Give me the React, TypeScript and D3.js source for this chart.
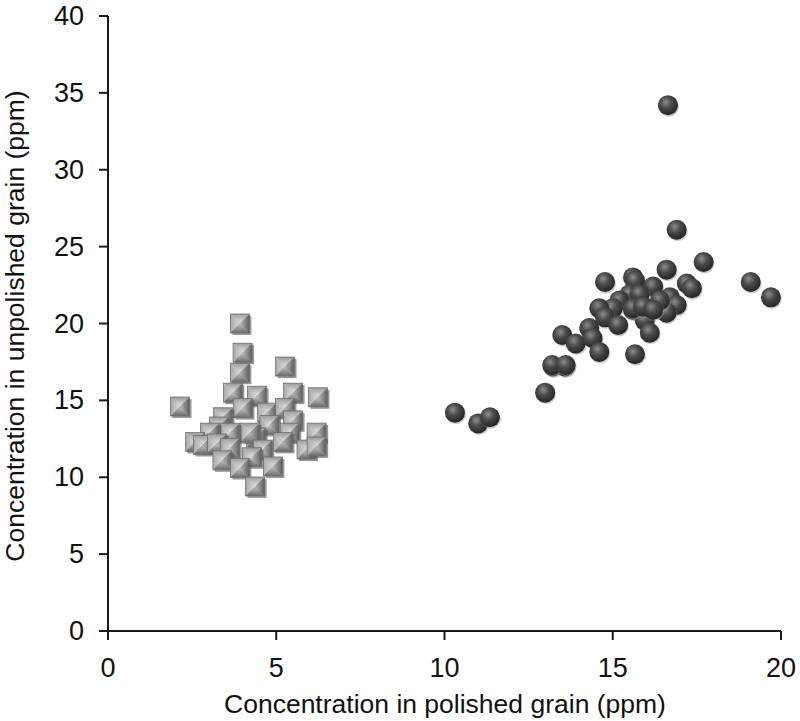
import { scaleLinear } from "d3";

const width = 800;
const height = 721;
const margin = { left: 108, right: 19, top: 16, bottom: 90 };

// polished grain (x) vs unpolished grain (y), ppm
const squareX = [3.92, 4.0, 3.92, 5.26, 3.71, 4.43, 5.5, 6.24, 2.14, 4.01, 4.72, 5.26, 3.42, 3.3, 4.8, 5.5, 4.4, 4.22, 3.63, 3.03, 5.4, 6.2, 2.59, 2.82, 3.24, 3.63, 4.6, 5.2, 5.9, 6.2, 3.4, 4.28, 3.92, 4.9, 4.37];
const squareY = [20.0, 18.1, 16.8, 17.2, 15.5, 15.3, 15.5, 15.2, 14.6, 14.5, 14.2, 14.5, 13.9, 13.3, 13.4, 13.7, 12.6, 12.9, 12.9, 12.9, 12.9, 12.9, 12.3, 12.1, 12.2, 11.9, 11.8, 12.3, 11.8, 12.0, 11.1, 11.3, 10.6, 10.7, 9.4];

const circleX = [10.31, 11.0, 11.35, 12.99, 13.22, 13.58, 16.64, 16.9, 17.7, 16.6, 19.1, 19.7, 17.2, 17.35, 14.77, 15.6, 15.66, 16.2, 15.5, 16.7, 16.9, 16.6, 15.6, 15.2, 15.8, 16.4, 15.95, 15.0, 14.6, 14.77, 15.16, 15.6, 15.9, 16.2, 14.3, 13.5, 13.9, 14.4, 14.6, 16.1, 15.66, 13.2, 13.6];
const circleY = [14.2, 13.5, 13.9, 15.5, 17.2, 17.2, 34.2, 26.1, 24.0, 23.5, 22.7, 21.7, 22.6, 22.3, 22.7, 23.0, 22.8, 22.4, 21.9, 21.7, 21.2, 20.7, 20.9, 21.5, 21.9, 21.5, 20.2, 21.0, 21.0, 20.4, 19.9, 21.0, 21.1, 20.9, 19.7, 19.25, 18.7, 19.06, 18.15, 19.4, 18.0, 17.3, 17.3];

const xTicks = [0, 5, 10, 15, 20];
const yTicks = [0, 5, 10, 15, 20, 25, 30, 35, 40];

const font = "Liberation Sans, Arial, Helvetica, sans-serif";

export default function App() {
  const x = scaleLinear().domain([0, 20]).range([margin.left, width - margin.right]);
  const y = scaleLinear().domain([0, 40]).range([height - margin.bottom, margin.top]);
  const s = 9.5; // half size of square marker
  const r = 10;

  return (
    <div style={{ position: "absolute", left: 0, top: 0 }}>
      <svg width={width} height={height} style={{ display: "block", background: "#fff" }}>
        <defs>
          <linearGradient id="gTop" x1="0" y1="0" x2="0" y2="1">
            <stop offset="0" stopColor="#9a9a9a" />
            <stop offset="1" stopColor="#e6e6e6" />
          </linearGradient>
          <linearGradient id="gLeft" x1="0" y1="0" x2="1" y2="0">
            <stop offset="0" stopColor="#a8a8a8" />
            <stop offset="1" stopColor="#dcdcdc" />
          </linearGradient>
          <linearGradient id="gRight" x1="1" y1="0" x2="0" y2="0">
            <stop offset="0" stopColor="#5e5e5e" />
            <stop offset="1" stopColor="#b8b8b8" />
          </linearGradient>
          <linearGradient id="gBottom" x1="0" y1="1" x2="0" y2="0">
            <stop offset="0" stopColor="#6a6a6a" />
            <stop offset="1" stopColor="#c4c4c4" />
          </linearGradient>
          <radialGradient id="gBall" cx="0.4" cy="0.35" r="0.65">
            <stop offset="0" stopColor="#8c8c8c" />
            <stop offset="0.45" stopColor="#4a4a4a" />
            <stop offset="1" stopColor="#262626" />
          </radialGradient>
        </defs>

        {/* squares */}
        {squareX.map((d, i) => {
          const cx = x(d);
          const cy = y(squareY[i]);
          return (
            <g key={"s" + i} transform={`translate(${cx},${cy})`}>
              <rect x={-s + 2} y={-s + 2} width={2 * s} height={2 * s} fill="#555" opacity={0.6} />
              <path d={`M${-s},${-s}L${s},${-s}L0,0Z`} fill="url(#gTop)" />
              <path d={`M${-s},${-s}L0,0L${-s},${s}Z`} fill="url(#gLeft)" />
              <path d={`M${s},${-s}L${s},${s}L0,0Z`} fill="url(#gRight)" />
              <path d={`M${-s},${s}L0,0L${s},${s}Z`} fill="url(#gBottom)" />
              <rect x={-s} y={-s} width={2 * s} height={2 * s} fill="none" stroke="#6e6e6e" strokeWidth={0.8} />
            </g>
          );
        })}

        {/* circles */}
        {circleX.map((d, i) => (
          <g key={"c" + i}>
            <circle cx={x(d) + 1} cy={y(circleY[i]) + 1.5} r={r} fill="#999" opacity={0.5} />
            <circle cx={x(d)} cy={y(circleY[i])} r={r} fill="url(#gBall)" />
          </g>
        ))}

        {/* axes */}
        <g stroke="#1a1a1a" strokeWidth={2} fill="none">
          <line x1={margin.left} x2={margin.left} y1={y(40)} y2={y(0)} />
          <line x1={margin.left} x2={x(20)} y1={y(0)} y2={y(0)} />
          {yTicks.map((t) => (
            <line key={"yt" + t} x1={margin.left - 9} x2={margin.left} y1={y(t)} y2={y(t)} />
          ))}
          {xTicks.map((t) => (
            <line key={"xt" + t} x1={x(t)} x2={x(t)} y1={y(0)} y2={y(0) + 9} />
          ))}
        </g>
        <g fontFamily={font} fontSize={27} fill="#111">
          {yTicks.map((t) => (
            <text key={"yl" + t} x={84} y={y(t)} textAnchor="end" dominantBaseline="central">
              {t}
            </text>
          ))}
          {xTicks.map((t) => (
            <text key={"xl" + t} x={x(t)} y={y(0) + 46} textAnchor="middle">
              {t}
            </text>
          ))}
        </g>
        <text x={445} y={713} textAnchor="middle" fontFamily={font} fontSize={26.5} fill="#111">
          Concentration in polished grain (ppm)
        </text>
        <text
          transform={`translate(24,${326}) rotate(-90)`}
          textAnchor="middle"
          fontFamily={font}
          fontSize={26.5}
          fill="#111"
        >
          Concentration in unpolished grain (ppm)
        </text>
      </svg>
    </div>
  );
}
